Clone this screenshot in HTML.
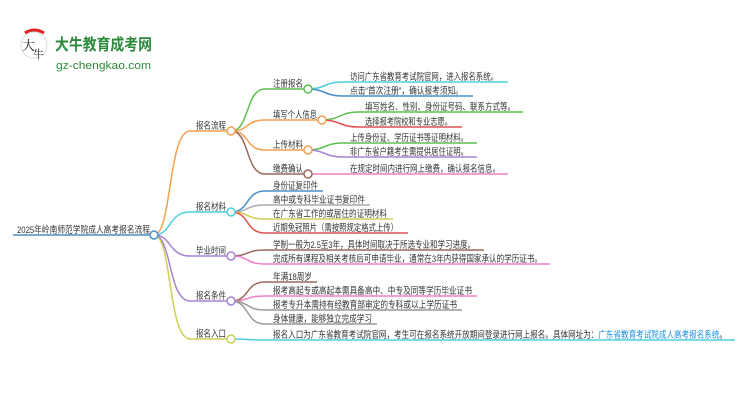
<!DOCTYPE html>
<html><head><meta charset="utf-8"><style>
html,body{margin:0;padding:0;background:#fff;width:750px;height:410px;overflow:hidden}
svg text{font-family:"Liberation Sans","Noto Sans CJK SC",sans-serif;font-size:9.5px;fill:#333}
</style></head><body>
<svg width="750" height="410" viewBox="0 0 750 410" xmlns="http://www.w3.org/2000/svg" fill="none" stroke-width="1.5">
<!-- logo -->
<circle cx="34" cy="45" r="13" fill="#fff" stroke="#ddd" stroke-width="1"/>
<path d="M25 33 Q34 27 44 33" stroke="#d22" stroke-width="3"/>
<text x="22" y="50" style="font-size:13px;fill:#222;font-family:'Noto Serif CJK SC',serif">大</text>
<text x="33" y="58" style="font-size:11px;fill:#222;font-family:'Noto Serif CJK SC',serif">牛</text>
<text x="55" y="50" textLength="97" lengthAdjust="spacingAndGlyphs" style="font-size:16px;font-weight:bold;fill:#2a8a3a">大牛教育成考网</text>
<text x="56" y="69" textLength="95" lengthAdjust="spacingAndGlyphs" style="font-size:11px;fill:#2a8a3a">gz-chengkao.com</text>

<!-- root -->
<line x1="13" y1="235" x2="150" y2="235" stroke="#4a8fc8"/>
<text x="17" y="233" textLength="133" lengthAdjust="spacingAndGlyphs">2025年岭南师范学院成人高考报名流程</text>

<!-- level1 curves -->
<path d="M154 235 C172 235 168 131 190 131 L227 131" stroke="#f5a04e"/>
<path d="M154 235 C172 235 168 212 190 212 L227 212" stroke="#4fd0e0"/>
<path d="M154 235 C172 235 168 256 190 256 L227 256" stroke="#a683d6"/>
<path d="M154 235 C172 235 168 301 190 301 L227 301" stroke="#a683d6"/>
<path d="M154 235 C172 235 168 339 190 339 L227 339" stroke="#cfcf55"/>
<text x="196" y="129" textLength="30" lengthAdjust="spacingAndGlyphs">报名流程</text>
<text x="196" y="210" textLength="30" lengthAdjust="spacingAndGlyphs">报名材料</text>
<text x="196" y="254" textLength="30" lengthAdjust="spacingAndGlyphs">毕业时间</text>
<text x="196" y="299" textLength="30" lengthAdjust="spacingAndGlyphs">报名条件</text>
<text x="196" y="337" textLength="30" lengthAdjust="spacingAndGlyphs">报名入口</text>

<!-- level2 under 报名流程 -->
<path d="M231 131 C250 131 245 89 265 89 L304 89" stroke="#5cbf4f"/>
<path d="M231 131 C250 131 245 120 265 120 L318 120" stroke="#f5a04e"/>
<path d="M231 131 C250 131 245 150 265 150 L304 150" stroke="#f5a04e"/>
<path d="M231 131 C250 131 245 174 265 174 L304 174" stroke="#9a6a5a"/>
<text x="273" y="87" textLength="30" lengthAdjust="spacingAndGlyphs">注册报名</text>
<text x="273" y="118" textLength="44" lengthAdjust="spacingAndGlyphs">填写个人信息</text>
<text x="273" y="148" textLength="30" lengthAdjust="spacingAndGlyphs">上传材料</text>
<text x="273" y="172" textLength="30" lengthAdjust="spacingAndGlyphs">缴费确认</text>

<!-- leaves -->
<path d="M308 89 C325 89 325 82 342 82 L508 82" stroke="#4fd0e0"/>
<path d="M308 89 C325 89 325 96 342 96 L473 96" stroke="#4a8fc8"/>
<text x="350" y="80" textLength="148" lengthAdjust="spacingAndGlyphs">访问广东省教育考试院官网，进入报名系统。</text>
<text x="350" y="94" textLength="113" lengthAdjust="spacingAndGlyphs">点击“首次注册”，确认报考须知。</text>
<path d="M322 120 C340 120 340 112 358 112 L523 112" stroke="#5cbf4f"/>
<path d="M322 120 C340 120 340 127 358 127 L462 127" stroke="#e05050"/>
<text x="365" y="110" textLength="150" lengthAdjust="spacingAndGlyphs">填写姓名、性别、身份证号码、联系方式等。</text>
<text x="365" y="125" textLength="87" lengthAdjust="spacingAndGlyphs">选择报考院校和专业志愿。</text>
<path d="M308 150 C325 150 325 143 342 143 L477 143" stroke="#5cbf4f"/>
<path d="M308 150 C325 150 325 157 342 157 L477 157" stroke="#a683d6"/>
<text x="350" y="141" textLength="118" lengthAdjust="spacingAndGlyphs">上传身份证、学历证书等证明材料。</text>
<text x="350" y="155" textLength="118" lengthAdjust="spacingAndGlyphs">非广东省户籍考生需提供居住证明。</text>
<path d="M308 174 L508 174" stroke="#ef7fc8"/>
<text x="350" y="172" textLength="150" lengthAdjust="spacingAndGlyphs">在规定时间内进行网上缴费，确认报名信息。</text>

<!-- 材料 -->
<path d="M231 212 C250 212 245 191 265 191 L323 191" stroke="#4a8fc8"/>
<path d="M231 212 C250 212 245 205 265 205 L370 205" stroke="#aaa"/>
<path d="M231 212 C250 212 245 219 265 219 L393 219" stroke="#cfcf55"/>
<path d="M231 212 C250 212 245 233 265 233 L408 233" stroke="#e05050"/>
<text x="273" y="189" textLength="45" lengthAdjust="spacingAndGlyphs">身份证复印件</text>
<text x="273" y="203" textLength="92" lengthAdjust="spacingAndGlyphs">高中或专科毕业证书复印件</text>
<text x="273" y="217" textLength="114" lengthAdjust="spacingAndGlyphs">在广东省工作的或居住的证明材料</text>
<text x="273" y="231" textLength="125" lengthAdjust="spacingAndGlyphs">近期免冠照片（需按照规定格式上传）</text>

<!-- 毕业 -->
<path d="M231 256 C250 256 245 250 265 250 L484 250" stroke="#9a6a5a"/>
<path d="M231 256 C250 256 245 264 265 264 L550 264" stroke="#ef7fc8"/>
<text x="273" y="248" textLength="202" lengthAdjust="spacingAndGlyphs">学制一般为2.5至3年，具体时间取决于所选专业和学习进度。</text>
<text x="273" y="262" textLength="269" lengthAdjust="spacingAndGlyphs">完成所有课程及相关考核后可申请毕业，通常在3年内获得国家承认的学历证书。</text>

<!-- 条件 -->
<path d="M231 301 C250 301 245 282 265 282 L317 282" stroke="#9a6a5a"/>
<path d="M231 301 C250 301 245 296 265 296 L477 296" stroke="#ef7fc8"/>
<path d="M231 301 C250 301 245 310 265 310 L462 310" stroke="#999"/>
<path d="M231 301 C250 301 245 324 265 324 L377 324" stroke="#999"/>
<text x="273" y="280" textLength="39" lengthAdjust="spacingAndGlyphs">年满18周岁</text>
<text x="273" y="294" textLength="199" lengthAdjust="spacingAndGlyphs">报考高起专或高起本需具备高中、中专及同等学历毕业证书</text>
<text x="273" y="308" textLength="184" lengthAdjust="spacingAndGlyphs">报考专升本需持有经教育部审定的专科或以上学历证书</text>
<text x="273" y="322" textLength="99" lengthAdjust="spacingAndGlyphs">身体健康，能够独立完成学习</text>

<!-- 入口 -->
<path d="M231 339 C250 339 245 340 265 340 L735 340" stroke="#4fd0e0"/>
<text x="273" y="338" textLength="454" lengthAdjust="spacingAndGlyphs">报名入口为广东省教育考试院官网，考生可在报名系统开放期间登录进行网上报名。具体网址为：<tspan style="fill:#1a8fe0">广东省教育考试院成人高考报名系统</tspan>。</text>

<!-- circles -->
<g fill="#fff">
<circle cx="154" cy="235" r="4" stroke="#4a8fc8"/>
<circle cx="231" cy="131" r="4" stroke="#f5a04e"/>
<circle cx="231" cy="212" r="4" stroke="#4fd0e0"/>
<circle cx="231" cy="256" r="4" stroke="#a683d6"/>
<circle cx="231" cy="301" r="4" stroke="#a683d6"/>
<circle cx="231" cy="339" r="4" stroke="#cfcf55"/>
<circle cx="308" cy="89" r="4" stroke="#5cbf4f"/>
<circle cx="322" cy="120" r="4" stroke="#f5a04e"/>
<circle cx="308" cy="150" r="4" stroke="#f5a04e"/>
<circle cx="308" cy="174" r="4" stroke="#9a6a5a"/>
</g>
</svg>
</body></html>
